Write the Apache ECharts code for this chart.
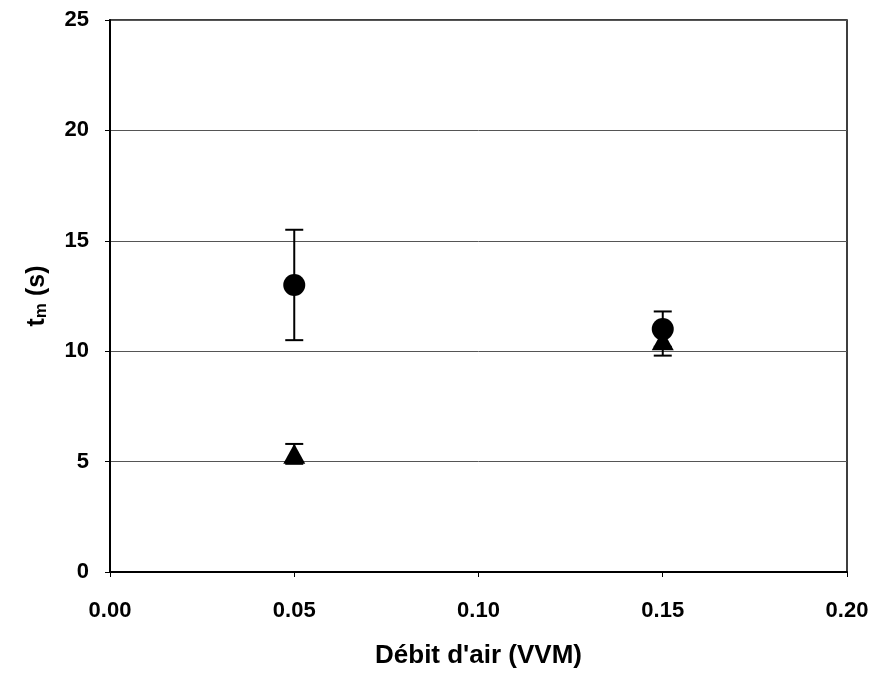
<!DOCTYPE html>
<html><head><meta charset="utf-8">
<script src="https://cdn.jsdelivr.net/npm/echarts@6/dist/echarts.min.js"></script>
<style>html,body{margin:0;padding:0;background:#fff}#c{width:874px;height:679px}</style>
</head><body><div id="c"></div>
<script>
const xValues = [0.05, 0.15];
const circleValues = [13.0, 11.0];
const circleErrors = [2.5, 0.8];
const triangleValues = [5.35, 10.5];
const triangleErrors = [0.45, 0.7];
const yTicks = [0, 5, 10, 15, 20, 25];
const xTicks = [0.00, 0.05, 0.10, 0.15, 0.20];

function errData(vals, errs) {
  return xValues.map((x, i) => [x, vals[i] - errs[i], vals[i] + errs[i]]);
}
function errRender(params, api) {
  const x = api.value(0);
  const lo = api.coord([x, api.value(1)]);
  const hi = api.coord([x, api.value(2)]);
  const w = 9;
  const st = {stroke: '#000', lineWidth: 2};
  return {type: 'group', children: [
    {type: 'line', shape: {x1: lo[0], y1: lo[1], x2: hi[0], y2: hi[1]}, style: st},
    {type: 'line', shape: {x1: lo[0]-w, y1: lo[1], x2: lo[0]+w, y2: lo[1]}, style: st},
    {type: 'line', shape: {x1: hi[0]-w, y1: hi[1], x2: hi[0]+w, y2: hi[1]}, style: st}
  ]};
}
const chart = echarts.init(document.getElementById('c'));
chart.setOption({
  animation: false,
  grid: {left: 110, right: 27, top: 20, bottom: 107, show: true, borderColor: '#000', borderWidth: 1.5},
  xAxis: {
    type: 'value', min: 0, max: 0.2, interval: 0.05,
    axisLine: {show: true, onZero: false, lineStyle: {color: '#000', width: 2}},
    axisTick: {show: true, length: 5, lineStyle: {color: '#000'}},
    splitLine: {show: false},
    axisLabel: {margin: 28, color: '#000', fontFamily: 'Liberation Sans', fontWeight: 'bold', fontSize: 22,
      formatter: v => v.toFixed(2)},
    name: "Débit d'air (VVM)", nameLocation: 'middle', nameGap: 71,
    nameTextStyle: {color: '#000', fontFamily: 'Liberation Sans', fontWeight: 'bold', fontSize: 26}
  },
  yAxis: {
    type: 'value', min: 0, max: 25, interval: 5,
    axisLine: {show: true, lineStyle: {color: '#000', width: 2}},
    axisTick: {show: true, length: 5, lineStyle: {color: '#000'}},
    splitLine: {show: true, lineStyle: {color: '#555', width: 1}},
    axisLabel: {margin: 21, color: '#000', fontFamily: 'Liberation Sans', fontWeight: 'bold', fontSize: 22},
    name: '{t|t}{s|m}{t| (s)}', nameLocation: 'middle', nameGap: 60, nameRotate: 90,
    nameTextStyle: {rich: {
      t: {color: '#000', fontFamily: 'Liberation Sans', fontWeight: 'bold', fontSize: 25},
      s: {color: '#000', fontFamily: 'Liberation Sans', fontWeight: 'bold', fontSize: 17, verticalAlign: 'bottom', padding: [9, 0, 0, 0]}
    }}
  },
  series: [
    {type: 'custom', renderItem: errRender, data: errData(circleValues, circleErrors), z: 2},
    {type: 'custom', renderItem: errRender, data: errData(triangleValues, triangleErrors), z: 2},
    {type: 'scatter', symbol: 'circle', symbolSize: 22, itemStyle: {color: '#000', opacity: 1},
      data: xValues.map((x, i) => [x, circleValues[i]]), z: 3},
    {type: 'scatter', symbol: 'triangle', symbolSize: [22, 20], itemStyle: {color: '#000', opacity: 1},
      data: xValues.map((x, i) => [x, triangleValues[i]]), z: 3}
  ]
});
</script></body></html>
